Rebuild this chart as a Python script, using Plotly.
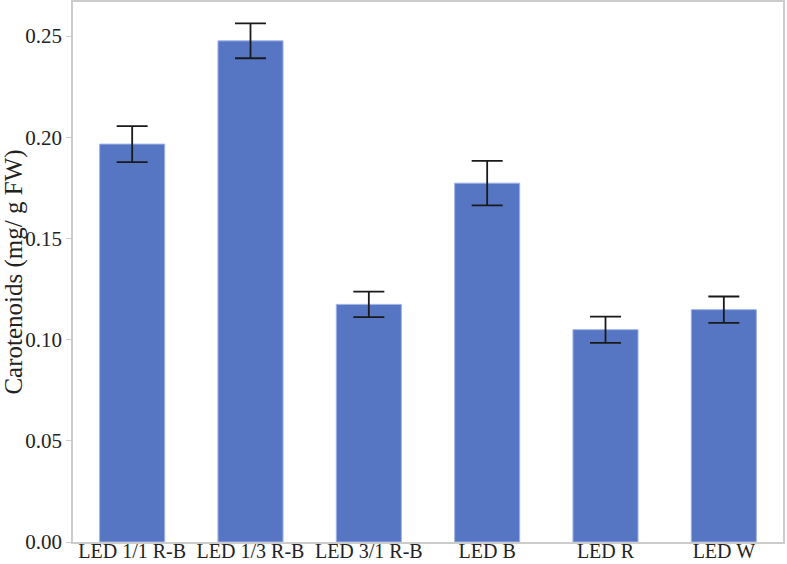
import plotly.graph_objects as go

treatments = ["LED 1/1 R-B", "LED 1/3 R-B", "LED 3/1 R-B", "LED B", "LED R", "LED W"]
carotenoids = [0.1966, 0.2476, 0.1174, 0.1773, 0.1049, 0.1148]
errors = [0.0089, 0.0086, 0.0063, 0.0110, 0.0065, 0.0065]

serif = "Liberation Serif, Times New Roman, serif"

fig = go.Figure(
    go.Bar(
        x=treatments,
        y=carotenoids,
        marker=dict(color="#5676C4", line=dict(color="#9FB3E6", width=1)),
        error_y=dict(type="data", array=errors, color="#1a1a1a", thickness=1.8, width=15.5),
    )
)

fig.update_layout(
    width=787,
    height=564,
    margin=dict(l=73, r=4, t=2, b=22),
    plot_bgcolor="white",
    paper_bgcolor="white",
    bargap=0.45,
    showlegend=False,
    font=dict(family=serif, color="#222"),
)
fig.update_xaxes(
    automargin=False,
    showline=True,
    linecolor="#cccccc",
    linewidth=1.5,
    mirror=True,
    ticks="",
    ticklabelstandoff=-10,
    tickfont=dict(size=20, color="#222"),
)
fig.update_yaxes(
    automargin=False,
    range=[0, 0.2668],
    tickvals=[0, 0.05, 0.10, 0.15, 0.20, 0.25],
    tickformat=".2f",
    showgrid=False,
    zeroline=False,
    showline=True,
    linecolor="#cccccc",
    linewidth=1.5,
    mirror=True,
    ticks="outside",
    ticklen=5,
    tickcolor="#cccccc",
    tickfont=dict(size=21, color="#222"),
    title=dict(text="Carotenoids (mg/ g FW)", font=dict(size=25, color="#222"), standoff=0),
)

fig.write_html(
    "out.html",
    config={"displayModeBar": False},
    post_script="document.body.style.margin='0';document.body.style.overflow='hidden';",
)
